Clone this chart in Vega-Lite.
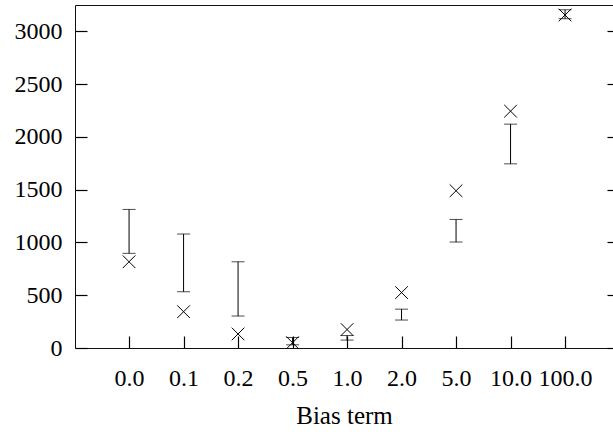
{
  "$schema": "https://vega.github.io/schema/vega-lite/v6.json",
  "width": 538,
  "height": 343,
  "padding": {"left": 75, "top": 5, "right": 0, "bottom": 84},
  "autosize": {"type": "none"},
  "background": "white",
  "config": {
    "view": {"stroke": null},
    "font": "Liberation Serif",
    "axis": {
      "labelFont": "Liberation Serif",
      "titleFont": "Liberation Serif",
      "labelFontSize": 24,
      "titleFontSize": 25,
      "labelColor": "#000",
      "titleColor": "#000",
      "titleFontWeight": "normal",
      "domainColor": "#111",
      "domainWidth": 1,
      "grid": false
    }
  },
  "data": {
    "values": [
      {"bias": "0.0", "low": 897, "high": 1313, "val": 817},
      {"bias": "0.1", "low": 533, "high": 1080, "val": 344},
      {"bias": "0.2", "low": 303, "high": 817, "val": 133},
      {"bias": "0.5", "low": 30, "high": 100, "val": 50},
      {"bias": "1.0", "low": 75, "high": 118, "val": 175},
      {"bias": "2.0", "low": 265, "high": 368, "val": 525},
      {"bias": "5.0", "low": 1004, "high": 1218, "val": 1490},
      {"bias": "10.0", "low": 1745, "high": 2121, "val": 2244},
      {"bias": "100.0", "low": 3120, "high": 3205, "val": 3155}
    ]
  },
  "resolve": {"axis": {"x": "independent", "y": "independent"}},
  "layer": [
    {
      "mark": {"type": "rule", "color": "#000", "strokeWidth": 1},
      "encoding": {
        "x": {
          "field": "bias", "type": "nominal", "sort": null,
          "scale": {"type": "point", "padding": 0.936, "align": 0.53},
          "axis": {
            "orient": "bottom", "title": "Bias term", "labelAngle": 0,
            "ticks": true, "tickSize": -12, "tickColor": "#000", "tickWidth": 1.2,
            "labelPadding": 30, "titlePadding": 13
          }
        },
        "y": {
          "field": "low", "type": "quantitative",
          "scale": {"domain": [0, 3250], "nice": false, "zero": true},
          "axis": {
            "orient": "left", "title": null, "format": "d",
            "values": [0, 500, 1000, 1500, 2000, 2500, 3000],
            "ticks": true, "tickSize": -12, "tickColor": "#000", "tickWidth": 1.2,
            "labelPadding": 25
          }
        },
        "y2": {"field": "high"}
      }
    },
    {
      "mark": {"type": "tick", "color": "#000", "size": 13, "thickness": 1},
      "encoding": {
        "x": {"field": "bias", "type": "nominal", "sort": null, "axis": null},
        "y": {"field": "low", "type": "quantitative", "axis": null}
      }
    },
    {
      "mark": {"type": "tick", "color": "#000", "size": 13, "thickness": 1},
      "encoding": {
        "x": {
          "field": "bias", "type": "nominal", "sort": null,
          "axis": {"orient": "top", "title": null, "ticks": false, "labels": false}
        },
        "y": {
          "field": "high", "type": "quantitative",
          "axis": {
            "orient": "right", "title": null, "labels": false, "domain": false,
            "values": [0, 500, 1000, 1500, 2000, 2500, 3000],
            "ticks": true, "tickSize": 6, "offset": -6, "tickColor": "#000", "tickWidth": 1.2
          }
        }
      }
    },
    {
      "mark": {
        "type": "point",
        "shape": "M-1,-1L1,1M1,-1L-1,1",
        "size": 160,
        "filled": false,
        "stroke": "#000",
        "strokeWidth": 1,
        "opacity": 1
      },
      "encoding": {
        "x": {"field": "bias", "type": "nominal", "sort": null, "axis": null},
        "y": {"field": "val", "type": "quantitative", "axis": null}
      }
    }
  ]
}
